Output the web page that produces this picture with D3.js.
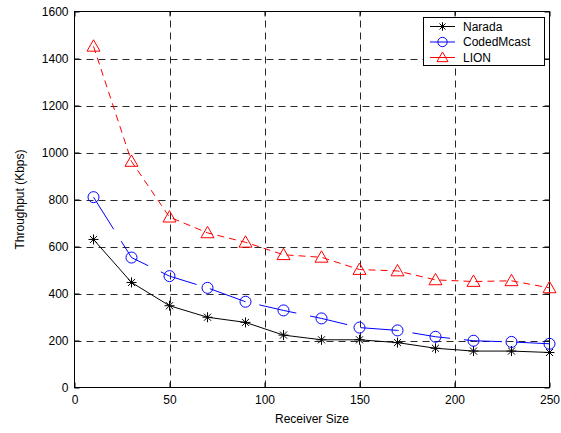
<!DOCTYPE html>
<html>
<head>
<meta charset="utf-8">
<script src="https://cdn.jsdelivr.net/npm/d3@7"></script>
<style>
  html, body { margin: 0; padding: 0; background: #fff; }
  svg { display: block; font-family: "Liberation Sans", Arial, sans-serif; }
</style>
</head>
<body>
<svg id="chart" width="561" height="433"></svg>
<script>
// Receiver group sizes on the x axis
const receiverSizes = [10, 30, 50, 70, 90, 110, 130, 150, 170, 190, 210, 230, 250];

// Throughput (Kbps) per protocol
const narada     = [630, 447, 348, 299, 277, 223, 203, 203, 191, 167, 155, 155, 149];
const codedMcast = [810, 553, 474, 424, 365, 328, 294, 255, 243, 216, 199, 194, 186];
const lion       = [1452, 962, 725, 658, 618, 565, 554, 502, 496, 458, 451, 454, 424];

const xTicks = [0, 50, 100, 150, 200, 250];
const yTicks = [0, 200, 400, 600, 800, 1000, 1200, 1400, 1600];

const seriesNames = ["Narada", "CodedMcast", "LION"];

const svg = d3.select("#chart");
const plotLeft = 74.5, plotRight = 549.5, plotTop = 11.5, plotBottom = 387.5;

const x = d3.scaleLinear().domain([0, 250]).range([plotLeft, plotRight]);
const y = d3.scaleLinear().domain([0, 1600]).range([plotBottom, plotTop]);

// Dashed grid
const grid = svg.append("g").attr("stroke", "#111").attr("stroke-width", 1)
  .attr("stroke-dasharray", "7,5").attr("opacity", 0.9);
grid.selectAll(".gx").data(xTicks.slice(1, -1)).join("line")
  .attr("x1", d => Math.round(x(d)) + 0.5).attr("x2", d => Math.round(x(d)) + 0.5)
  .attr("y1", plotBottom).attr("y2", plotTop);
grid.selectAll(".gy").data(yTicks.slice(1, -1)).join("line")
  .attr("y1", d => Math.round(y(d)) + 0.5).attr("y2", d => Math.round(y(d)) + 0.5)
  .attr("x1", plotLeft).attr("x2", plotRight);

// Axes with inward ticks
const fontSize = 12;
const fmt = d3.format("d");
svg.append("g").attr("transform", `translate(0,${plotBottom})`)
  .call(d3.axisBottom(x).tickValues(xTicks).tickFormat(fmt).tickSizeInner(-5).tickSizeOuter(0).tickPadding(8));
svg.append("g").attr("transform", `translate(${plotLeft},0)`)
  .call(d3.axisLeft(y).tickValues(yTicks).tickFormat(fmt).tickSizeInner(-5).tickSizeOuter(0).tickPadding(6));
svg.append("g").attr("transform", `translate(0,${plotTop})`)
  .call(d3.axisTop(x).tickValues(xTicks).tickSizeInner(-5).tickSizeOuter(0).tickFormat(""));
svg.append("g").attr("transform", `translate(${plotRight},0)`)
  .call(d3.axisRight(y).tickValues(yTicks).tickSizeInner(-5).tickSizeOuter(0).tickFormat(""));
svg.selectAll(".domain").remove();
svg.selectAll(".tick line").attr("stroke", "#000");
svg.selectAll(".tick text").attr("font-size", fontSize).attr("fill", "#000")
  .attr("font-family", "Liberation Sans, Arial, sans-serif");

// Frame
svg.append("rect").attr("x", plotLeft).attr("y", plotTop)
  .attr("width", plotRight - plotLeft).attr("height", plotBottom - plotTop)
  .attr("fill", "none").attr("stroke", "#000").attr("stroke-width", 1);

// Axis titles
svg.append("text").attr("x", (plotLeft + plotRight) / 2).attr("y", 423)
  .attr("text-anchor", "middle").attr("font-size", fontSize).text("Receiver Size");
svg.append("text").attr("transform", `translate(24,${(plotTop + plotBottom) / 2}) rotate(-90)`)
  .attr("text-anchor", "middle").attr("font-size", fontSize).text("Throughput (Kbps)");

// Marker drawers
function asterisk(g, s) {
  const r = s;
  const d = r * Math.SQRT1_2;
  g.append("path")
    .attr("d", `M${-r},0H${r}M0,${-r}V${r}M${-d},${-d}L${d},${d}M${-d},${d}L${d},${-d}`)
    .attr("stroke", "#000").attr("stroke-width", 1).attr("fill", "none");
}
function circle(g, s) {
  g.append("circle").attr("r", s).attr("fill", "none")
    .attr("stroke", "#0000ff").attr("stroke-width", 1);
}
function triangle(g, s) {
  g.append("path").attr("d", `M0,${-s}L${s},${s * 0.75}L${-s},${s * 0.75}Z`)
    .attr("fill", "none").attr("stroke", "#ff0000").attr("stroke-width", 1);
}

const series = [
  { name: seriesNames[0], values: narada, color: "#000", dash: null, marker: asterisk, size: 5 },
  { name: seriesNames[1], values: codedMcast, color: "#0000ff", dash: "38,14", marker: circle, size: 5.5 },
  { name: seriesNames[2], values: lion, color: "#ff0000", dash: "7,5", marker: triangle, size: 6.5 }
];

const line = d3.line().x((d, i) => x(receiverSizes[i])).y(d => y(d));

series.forEach(s => {
  svg.append("path").datum(s.values).attr("d", line)
    .attr("fill", "none").attr("stroke", s.color).attr("stroke-width", 1)
    .attr("stroke-dasharray", s.dash);
  svg.append("g").selectAll("g").data(s.values).join("g")
    .attr("transform", (d, i) => `translate(${x(receiverSizes[i])},${y(d)})`)
    .each(function () { s.marker(d3.select(this), s.size); });
});

// Legend
const lg = svg.append("g");
lg.append("rect").attr("x", 423.5).attr("y", 17.5).attr("width", 121).attr("height", 48)
  .attr("fill", "#fff").attr("stroke", "#000").attr("stroke-width", 1);
series.forEach((s, i) => {
  const yy = 26.5 + i * 15.5;
  lg.append("line").attr("x1", 430).attr("x2", 455).attr("y1", yy).attr("y2", yy)
    .attr("stroke", s.color).attr("stroke-width", 1);
  const m = lg.append("g").attr("transform", `translate(442.5,${yy})`);
  s.marker(m, s.size * 0.85);
  lg.append("text").attr("x", 463).attr("y", yy + 4).attr("font-size", fontSize).text(s.name);
});
</script>
</body>
</html>
